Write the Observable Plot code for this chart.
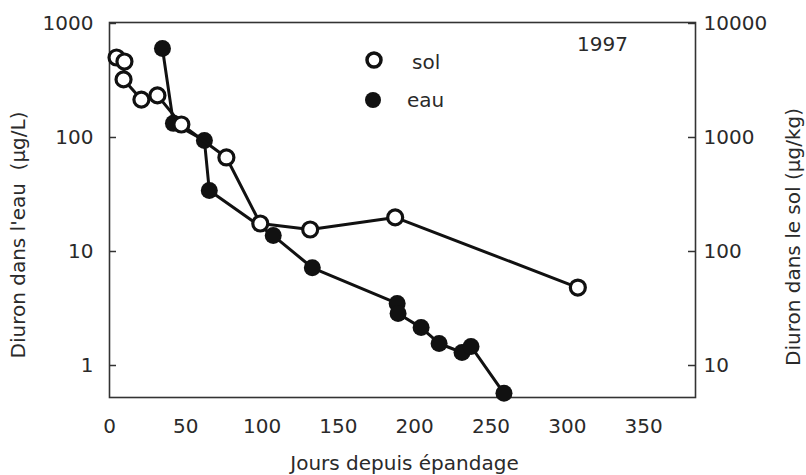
<!DOCTYPE html>
<html><head><meta charset="utf-8">
<script src="https://cdn.jsdelivr.net/npm/d3@7"></script>
<script src="https://cdn.jsdelivr.net/npm/@observablehq/plot@0.6"></script>
<style>
body{margin:0;background:#fff;}
#wrap{position:relative;width:806px;height:475px;font-family:"DejaVu Sans",sans-serif;color:#2a2a2a;}
.leg{position:absolute;font-size:20px;line-height:1;}
</style>
</head><body><div id="wrap"></div>
<script>
// Water (eau), µg/L, left axis
const eauDays = [34.7, 41.9, 62.2, 65.4, 107.3, 132.9, 188.5, 189.1, 204.2, 216.0, 231.0, 236.9, 258.5];
const eauValues = [604, 133, 94, 34.3, 13.8, 7.2, 3.5, 2.86, 2.15, 1.56, 1.30, 1.47, 0.57];
// Soil (sol), µg/kg, right axis
const solDays = [4.6, 9.8, 9.2, 20.9, 31.4, 47.1, 76.6, 98.8, 131.5, 187.2, 306.9];
const solValues = [5030, 4640, 3230, 2150, 2340, 1300, 668, 176, 156, 199, 48.3];
const xTicks = [0, 50, 100, 150, 200, 250, 300, 350];
const leftTicks = [1, 10, 100, 1000];
const rightTicks = [10, 100, 1000, 10000];
const RATIO = 10; // right axis = left axis × 10

const eau = eauDays.map((d, i) => ({day: d, v: eauValues[i]}));
const sol = solDays.map((d, i) => ({day: d, v: solValues[i] / RATIO}));

const W = 806, H = 475, mL = 109, mR = 111, mT = 22, mB = 78;
const fw = W - mL - mR;

const chart = Plot.plot({
  width: W, height: H,
  marginLeft: mL, marginRight: mR, marginTop: mT, marginBottom: mB,
  style: {fontFamily: "DejaVu Sans, sans-serif", fontSize: "20px", color: "#2a2a2a", background: "white"},
  x: {domain: [0, 384]},
  y: {type: "log", domain: [0.524, 1020]},
  marks: [
    Plot.axisX({ticks: xTicks, tickSize: 0, tickPadding: 21, label: null}),
    Plot.axisY({anchor: "left", ticks: leftTicks, tickSize: 0, tickPadding: 16, tickFormat: d => String(d), label: null}),
    Plot.axisY({anchor: "right", ticks: rightTicks.map(v => v / RATIO), tickSize: 0, tickPadding: 8,
      tickFormat: d => String(Math.round(d * RATIO)), label: null}),
    Plot.tickY(leftTicks, {y: d => d, insetRight: fw - 7, stroke: "#333", strokeWidth: 1.5}),
    Plot.tickY(leftTicks, {y: d => d, insetLeft: fw - 7, stroke: "#333", strokeWidth: 1.5}),
    Plot.frame({stroke: "#333", strokeWidth: 1.6}),
    Plot.line(eau, {x: "day", y: "v", stroke: "#111", strokeWidth: 3}),
    Plot.dot(eau, {x: "day", y: "v", r: 8.5, fill: "#111", stroke: "none"}),
    Plot.line(sol, {x: "day", y: "v", stroke: "#111", strokeWidth: 3}),
    Plot.dot(sol, {x: "day", y: "v", r: 7.5, fill: "white", stroke: "#111", strokeWidth: 3.2}),
    Plot.text(["1997"], {frameAnchor: "top-right", dx: -93, dy: 22, textAnchor: "middle", lineAnchor: "middle", fill: "#2a2a2a"}),
    Plot.text(["Diuron dans l'eau  (µg/L)"], {frameAnchor: "left", rotate: -90, dx: -91, dy: 25, textAnchor: "middle", lineAnchor: "middle", fill: "#2a2a2a"}),
    Plot.text(["Diuron dans le sol (µg/kg)"], {frameAnchor: "right", rotate: -90, dx: 98, dy: 27, textAnchor: "middle", lineAnchor: "middle", fill: "#2a2a2a"}),
    Plot.text(["Jours depuis épandage"], {frameAnchor: "bottom", dx: 2, dy: 66, textAnchor: "middle", lineAnchor: "middle", fill: "#2a2a2a"})
  ]
});
const wrap = document.getElementById("wrap");
wrap.appendChild(chart);

// legend overlay
const legend = document.createElement("div");
legend.innerHTML = `
<svg width="806" height="475" style="position:absolute;left:0;top:0;pointer-events:none">
  <circle cx="374" cy="60" r="7" fill="white" stroke="#111" stroke-width="3.5"/>
  <circle cx="373" cy="100" r="8" fill="#111"/>
</svg>
<div class="leg" style="left:412px;top:52px">sol</div>
<div class="leg" style="left:407px;top:90px">eau</div>`;
wrap.appendChild(legend);
</script>
</body></html>
